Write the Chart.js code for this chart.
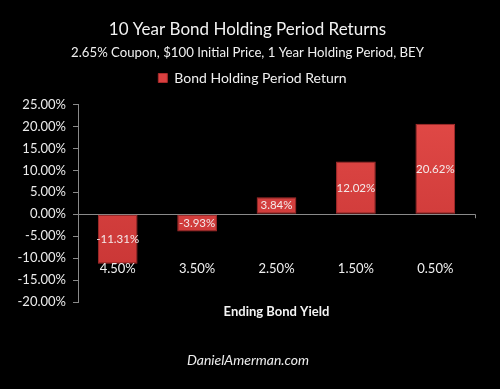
<!DOCTYPE html>
<html>
<head>
<meta charset="utf-8">
<script src="https://cdn.jsdelivr.net/npm/chart.js@4/dist/chart.umd.min.js"></script>
<style>
  html, body { margin: 0; padding: 0; background: #000; }
  #wrap { width: 500px; height: 389px; }
</style>
</head>
<body>
<div id="wrap"><canvas id="c" width="500" height="389"></canvas></div>
<script>
const categories = ['4.50%', '3.50%', '2.50%', '1.50%', '0.50%'];
const returnsPct = [-11.31, -3.93, 3.84, 12.02, 20.62];
const seriesName = 'Bond Holding Period Return';
const chartTitle = '10 Year Bond Holding Period Returns';
const chartSubtitle = '2.65% Coupon, $100 Initial Price, 1 Year Holding Period, BEY';
const xAxisTitle = 'Ending Bond Yield';
const footerText = 'DanielAmerman.com';
const yMin = -20, yMax = 25, yStep = 5;

const FONT = 'Lato, "Open Sans", sans-serif';

function barFill(ctx) {
  const chart = ctx.chart;
  const area = chart.chartArea;
  if (!area) return '#d43c3c';
  const g = chart.ctx.createLinearGradient(0, area.top, 0, area.bottom);
  g.addColorStop(0, '#e24a47');
  g.addColorStop(1, '#c53333');
  return g;
}

// adds a little space under the legend and nudges it right
const legendSpacer = {
  id: 'legendSpacer',
  beforeLayout(chart) {
    const lg = chart.legend;
    if (lg && !lg.__patched) {
      const orig = lg.fit;
      lg.fit = function () {
        orig.call(this);
        this.height += 9.5;
        if (this.lineWidths && this.lineWidths.length) this.lineWidths[0] -= 10;
      };
      lg.__patched = true;
    }
  }
};

const overlayPlugin = {
  id: 'overlay',
  afterDatasetsDraw(chart) {
    const ctx = chart.ctx;
    const xs = chart.scales.x, ys = chart.scales.y;
    const meta = chart.getDatasetMeta(0);
    ctx.save();
    ctx.font = '11.5px ' + FONT;
    ctx.fillStyle = '#f4eaea';
    ctx.textAlign = 'center';
    ctx.textBaseline = 'middle';
    meta.data.forEach((bar, i) => {
      const v = returnsPct[i];
      const yc = (ys.getPixelForValue(v) + ys.getPixelForValue(0)) / 2;
      ctx.fillText(v.toFixed(2) + '%', bar.x, yc);
    });
    ctx.font = '13px ' + FONT;
    ctx.fillStyle = '#f0f0f0';
    categories.forEach((c, i) => {
      ctx.fillText(c, xs.getPixelForValue(i), ys.getPixelForValue(-12.55));
    });
    const y0 = ys.getPixelForValue(0);
    ctx.strokeStyle = '#8a8a8a';
    ctx.lineWidth = 1;
    ctx.beginPath();
    ctx.moveTo(xs.right + 0.5, y0);
    ctx.lineTo(xs.right + 0.5, y0 + 4);
    ctx.stroke();
    ctx.font = 'italic 14px ' + FONT;
    ctx.fillStyle = '#ececec';
    ctx.fillText(footerText, 248, 360);
    ctx.restore();
  }
};

new Chart(document.getElementById('c'), {
  type: 'bar',
  data: {
    labels: categories,
    datasets: [{
      label: seriesName,
      data: returnsPct,
      backgroundColor: barFill,
      borderColor: '#a92b2b',
      borderWidth: 1,
      borderSkipped: false,
      barPercentage: 1,
      categoryPercentage: 0.5
    }]
  },
  options: {
    responsive: false,
    animation: false,
    layout: { padding: { left: 0, right: 5, top: 0, bottom: 0 } },
    plugins: {
      title: {
        display: true, text: chartTitle, color: '#f2f2f2',
        font: { family: FONT, size: 17, weight: 'normal', lineHeight: 29 / 17 },
        padding: 0
      },
      subtitle: {
        display: true, text: chartSubtitle, color: '#f0f0f0',
        font: { family: FONT, size: 13.2, weight: 'normal', lineHeight: 17 / 13.2 },
        padding: 0
      },
      legend: {
        display: true,
        labels: {
          color: '#f0f0f0',
          font: { family: FONT, size: 14 },
          boxWidth: 9, boxHeight: 9, padding: 10,
          generateLabels(chart) {
            return [{ text: seriesName, fillStyle: '#d94040', strokeStyle: '#a92b2b', lineWidth: 1, fontColor: '#f0f0f0', datasetIndex: 0 }];
          }
        }
      },
      tooltip: { enabled: false }
    },
    scales: {
      x: {
        afterFit(scale) { scale.paddingRight = 25; },
        grid: { display: false, drawTicks: false },
        border: { display: false },
        ticks: { display: false },
        title: {
          display: true, text: xAxisTitle, color: '#f4f4f4',
          font: { family: FONT, size: 13, weight: 'bold' },
          padding: { top: 2, bottom: 0 }
        }
      },
      y: {
        min: yMin, max: yMax,
        afterFit(scale) { scale.width = 78; scale.paddingTop = 104.5; scale.paddingBottom = 87; },
        ticks: {
          stepSize: yStep, color: '#ececec', padding: 7,
          font: { family: FONT, size: 13 },
          callback: v => v.toFixed(2) + '%'
        },
        grid: {
          color: c => (c.tick && c.tick.value === 0) ? '#8a8a8a' : 'rgba(0,0,0,0)',
          tickColor: '#8a8a8a',
          tickLength: 5,
          lineWidth: 1
        },
        border: { display: true, color: '#8a8a8a' }
      }
    }
  },
  plugins: [legendSpacer, overlayPlugin]
});
</script>
</body>
</html>
